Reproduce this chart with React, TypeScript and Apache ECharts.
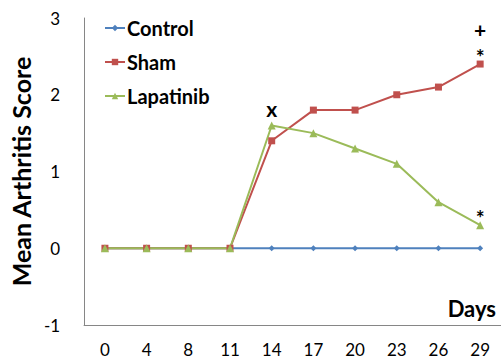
import React, { useEffect, useRef } from "react";
import * as echarts from "echarts";

const days = ["0", "4", "8", "11", "14", "17", "20", "23", "26", "29"];
const control = [0, 0, 0, 0, 0, 0, 0, 0, 0, 0];
const sham = [0, 0, 0, 0, 1.4, 1.8, 1.8, 2.0, 2.1, 2.4];
const lapatinib = [0, 0, 0, 0, 1.6, 1.5, 1.3, 1.1, 0.6, 0.3];
const yTicks = { min: -1, max: 3, interval: 1 };

const FONT = "Lato";

export default function App() {
  const ref = useRef<HTMLDivElement>(null);
  useEffect(() => {
    if (!ref.current) return;
    const chart = echarts.init(ref.current, undefined, { renderer: "svg" });
    const annText = {
      show: true,
      position: "inside" as const,
      fontFamily: FONT,
      fontWeight: "bold" as const,
      fontSize: 21,
      color: "#000",
    };
    const last = days.length - 1;
    const mark = (yi: number, yv: number, text: string, dy: number) => ({
      coord: [days[yi], yv],
      symbol: "circle",
      symbolSize: 1,
      itemStyle: { color: "rgba(0,0,0,0)" },
      label: { ...annText, formatter: text, offset: [0, dy] },
    });
    chart.setOption({
      animation: false,
      backgroundColor: "#fff",
      grid: { left: 81, top: 18, width: 422, bottom: 38 },
      legend: {
        orient: "vertical",
        left: 99,
        top: 13,
        itemWidth: 20,
        itemHeight: 8,
        itemGap: 14,
        textStyle: {
          fontFamily: FONT,
          fontWeight: "bold",
          fontSize: 20,
          lineHeight: 20,
          color: "#000",
          padding: [0, 0, 0, -3],
        },
        data: ["Control", "Sham", "Lapatinib"],
      },
      xAxis: {
        type: "category",
        data: days,
        boundaryGap: true,
        axisLine: { onZero: false, lineStyle: { color: "#868686", width: 1 } },
        axisTick: { show: false },
        axisLabel: { fontFamily: FONT, fontSize: 17, color: "#000", margin: 16 },
      },
      yAxis: {
        type: "value",
        min: yTicks.min,
        max: yTicks.max,
        interval: yTicks.interval,
        name: "Mean Arthritis Score",
        nameLocation: "middle",
        nameGap: 48,
        nameTextStyle: { fontFamily: FONT, fontWeight: "bold", fontSize: 25, color: "#000" },
        splitLine: { show: false },
        axisLine: { show: true, lineStyle: { color: "#868686", width: 1 } },
        axisTick: { show: false },
        axisLabel: { fontFamily: FONT, fontSize: 17, color: "#000", margin: 24 },
      },
      graphic: [
        {
          type: "text",
          right: 5,
          top: 297,
          style: { text: "Days", fontFamily: FONT, fontWeight: "bold", fontSize: 22, fill: "#000" },
        },
      ],
      series: [
        {
          name: "Control",
          type: "line",
          data: control,
          symbol: "diamond",
          symbolSize: 6,
          color: "#4F81BD",
          lineStyle: { width: 2 },
        },
        {
          name: "Sham",
          type: "line",
          data: sham,
          symbol: "rect",
          symbolSize: 7,
          color: "#C0504D",
          lineStyle: { width: 2 },
          markPoint: {
            silent: true,
            data: [mark(last, sham[last], "*", -8), mark(last, sham[last], "+", -35)],
          },
        },
        {
          name: "Lapatinib",
          type: "line",
          data: lapatinib,
          symbol: "triangle",
          symbolSize: 8,
          color: "#9BBB59",
          lineStyle: { width: 2 },
          markPoint: {
            silent: true,
            data: [mark(last, lapatinib[last], "*", -8), mark(4, lapatinib[4], "x", -17)],
          },
        },
      ],
    });
    return () => chart.dispose();
  }, []);
  return <div ref={ref} style={{ position: "fixed", left: 0, top: 0, width: 501, height: 363 }} />;
}
